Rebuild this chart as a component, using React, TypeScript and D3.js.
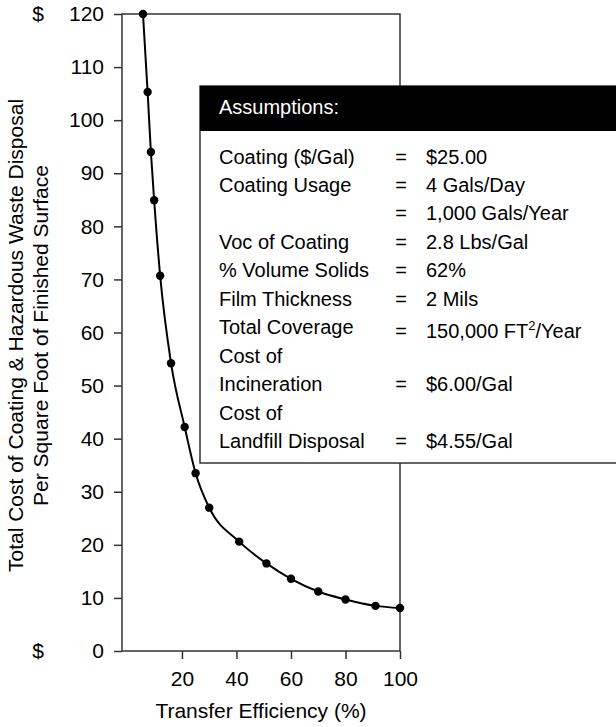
import { useEffect, useRef } from 'react'
import * as d3 from 'd3'

// transfer efficiency (%) vs total cost ($ per sq ft)
const efficiency = [5.7, 7.4, 8.6, 9.8, 12, 16, 21, 25, 30, 41, 51, 60, 70, 80, 91, 100]
const cost = [120, 105.3, 94, 84.9, 70.7, 54.2, 42.2, 33.5, 27, 20.6, 16.5, 13.6, 11.2, 9.7, 8.5, 8.1]

const yTicks = [0, 10, 20, 30, 40, 50, 60, 70, 80, 90, 100, 110, 120]
const xTicks = [20, 40, 60, 80, 100]

const assumptionLabels = [
  'Coating ($/Gal)',
  'Coating Usage',
  '',
  'Voc of Coating',
  '% Volume Solids',
  'Film Thickness',
  'Total Coverage',
  'Cost of',
  'Incineration',
  'Cost of',
  'Landfill Disposal',
]
const assumptionValues = [
  '$25.00',
  '4 Gals/Day',
  '1,000 Gals/Year',
  '2.8 Lbs/Gal',
  '62%',
  '2 Mils',
  '150,000 FT^2/Year',
  '',
  '$6.00/Gal',
  '',
  '$4.55/Gal',
]

const FONT = '"Liberation Sans", Arial, Helvetica, sans-serif'

export default function App() {
  const svgRef = useRef<SVGSVGElement>(null)

  useEffect(() => {
    const svg = d3.select(svgRef.current)
    svg.selectAll('*').remove()

    const left = 122,
      right = 400,
      top = 14,
      bottom = 651

    const x = d3.scaleLinear().domain([-2, 100]).range([left, right])
    const y = d3.scaleLinear().domain([0, 120]).range([bottom, top])

    // axes
    const yAxis = svg
      .append('g')
      .attr('transform', `translate(${left},0)`)
      .call(d3.axisLeft(y).tickValues(yTicks).tickSize(8).tickPadding(10))
    const xAxis = svg
      .append('g')
      .attr('transform', `translate(0,${bottom})`)
      .call(d3.axisBottom(x).tickValues(xTicks).tickSize(8).tickPadding(12))
    ;[yAxis, xAxis].forEach((a) => {
      a.select('.domain').remove()
      a.selectAll('line').attr('stroke', '#333').attr('stroke-width', 1.5)
      a.selectAll('text')
        .attr('fill', '#000')
        .style('font-family', FONT)
        .style('font-size', '21px')
    })

    // frame
    svg
      .append('rect')
      .attr('x', left)
      .attr('y', top)
      .attr('width', right - left)
      .attr('height', bottom - top)
      .attr('fill', 'none')
      .attr('stroke', '#333')
      .attr('stroke-width', 1.5)

    // dollar signs
    svg
      .selectAll('text.dollar')
      .data([120, 0])
      .join('text')
      .attr('class', 'dollar')
      .attr('x', 38)
      .attr('y', (d) => y(d))
      .attr('dy', '0.32em')
      .attr('text-anchor', 'middle')
      .style('font-family', FONT)
      .style('font-size', '21px')
      .text('$')

    // curve + points
    const pts = efficiency.map((e, i) => [e, cost[i]] as [number, number])
    const line = d3
      .line<[number, number]>()
      .x((d) => x(d[0]))
      .y((d) => y(d[1]))
      .curve(d3.curveMonotoneX)
    svg
      .append('path')
      .attr('d', line(pts))
      .attr('fill', 'none')
      .attr('stroke', '#000')
      .attr('stroke-width', 2)
    svg
      .selectAll('circle')
      .data(pts)
      .join('circle')
      .attr('cx', (d) => x(d[0]))
      .attr('cy', (d) => y(d[1]))
      .attr('r', 4.2)
      .attr('fill', '#000')

    // axis titles
    svg
      .append('text')
      .attr('x', (left + right) / 2)
      .attr('y', 718)
      .attr('text-anchor', 'middle')
      .style('font-family', FONT)
      .style('font-size', '21px')
      .text('Transfer Efficiency (%)')
    const yTitle = [
      'Total Cost of Coating & Hazardous Waste Disposal',
      'Per Square Foot of Finished Surface',
    ]
    svg
      .selectAll('text.ytitle')
      .data(yTitle)
      .join('text')
      .attr('class', 'ytitle')
      .attr('transform', (_, i) => `translate(${23 + i * 25},${(top + bottom) / 2 + 3}) rotate(-90)`)
      .attr('text-anchor', 'middle')
      .style('font-family', FONT)
      .style('font-size', '21px')
      .text((d) => d)

    // assumptions box
    const box = svg.append('g')
    box
      .append('rect')
      .attr('x', 200)
      .attr('y', 86)
      .attr('width', 430)
      .attr('height', 377)
      .attr('fill', '#fff')
      .attr('stroke', '#333')
      .attr('stroke-width', 1.5)
    box
      .append('rect')
      .attr('x', 200)
      .attr('y', 86)
      .attr('width', 430)
      .attr('height', 45)
      .attr('fill', '#000')
    box
      .append('text')
      .attr('x', 219)
      .attr('y', 114)
      .attr('fill', '#fff')
      .style('font-family', FONT)
      .style('font-size', '20px')
      .text('Assumptions:')

    const rowY = (i: number) => 163.5 + i * 28.48
    const rows = box
      .selectAll('g.row')
      .data(assumptionLabels)
      .join('g')
      .attr('class', 'row')
      .style('font-family', FONT)
      .style('font-size', '20px')
    rows
      .append('text')
      .attr('x', 219)
      .attr('y', (_, i) => rowY(i))
      .text((d) => d)
    rows
      .filter((_, i) => assumptionValues[i] !== '')
      .each(function (_, __) {
        const g = d3.select(this)
        const i = assumptionLabels.indexOf(g.datum() as string)
        const shift = assumptionValues[i].includes('^') ? 4 : 0
        g.append('text')
          .attr('x', 401)
          .attr('y', rowY(i) + shift)
          .attr('text-anchor', 'middle')
          .text('=')
        const t = g.append('text').attr('x', 426).attr('y', rowY(i) + shift)
        const parts = assumptionValues[i].split('^')
        t.append('tspan').text(parts[0])
        if (parts.length > 1) {
          t.append('tspan')
            .attr('dy', -8)
            .style('font-size', '13px')
            .text(parts[1].charAt(0))
          t.append('tspan').attr('dy', 8).text(parts[1].slice(1))
        }
      })
  }, [])

  return (
    <svg
      ref={svgRef}
      width={616}
      height={727}
      style={{ position: 'absolute', left: 0, top: 0, background: '#fff' }}
    />
  )
}
